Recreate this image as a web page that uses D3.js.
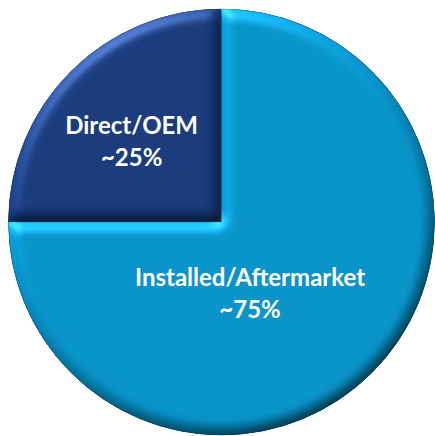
<!DOCTYPE html>
<html>
<head>
<meta charset="utf-8">
<script src="https://cdn.jsdelivr.net/npm/d3@7"></script>
<style>
  html, body { margin: 0; padding: 0; background: #ffffff; }
  svg { display: block; }
</style>
</head>
<body>
<div id="chart"></div>
<script>
// Market split by channel
const categories = ["Direct/OEM", "Installed/Aftermarket"];
const shares = [25, 75];
const shareLabels = ["~25%", "~75%"];
const sliceColors = ["#163778", "#068fc5"];

const width = 435, height = 436;
const cx = 221.5, cy = 222, radius = 213;

const svg = d3.select("#chart").append("svg")
  .attr("width", width)
  .attr("height", height);

// Beveled, softly lit surface for each slice
const defs = svg.append("defs");
const f = defs.append("filter")
  .attr("id", "bevel")
  .attr("x", "-5%").attr("y", "-5%")
  .attr("width", "110%").attr("height", "110%")
  .attr("color-interpolation-filters", "sRGB");
f.append("feGaussianBlur").attr("in", "SourceAlpha").attr("stdDeviation", 6.5).attr("result", "bump");
f.append("feDiffuseLighting")
  .attr("in", "bump").attr("surfaceScale", 6).attr("diffuseConstant", 1)
  .attr("lighting-color", "#ffffff").attr("result", "diff")
  .append("feDistantLight").attr("azimuth", 240).attr("elevation", 35);
f.append("feComposite")
  .attr("in", "SourceGraphic").attr("in2", "diff").attr("operator", "arithmetic")
  .attr("k1", 0.87).attr("k2", 0.5).attr("k3", 0).attr("k4", 0).attr("result", "shaded");
f.append("feSpecularLighting")
  .attr("in", "bump").attr("surfaceScale", 6).attr("specularConstant", 0.6)
  .attr("specularExponent", 20).attr("lighting-color", "#ffffff").attr("result", "spec")
  .append("feDistantLight").attr("azimuth", 240).attr("elevation", 35);
f.append("feComposite").attr("in", "spec").attr("in2", "SourceAlpha").attr("operator", "in").attr("result", "specIn");
f.append("feComposite")
  .attr("in", "shaded").attr("in2", "specIn").attr("operator", "arithmetic")
  .attr("k1", 0).attr("k2", 1).attr("k3", 0.35).attr("k4", 0).attr("result", "lit");
f.append("feComposite").attr("in", "lit").attr("in2", "SourceAlpha").attr("operator", "in");

const data = categories.map((c, i) => ({ category: c, value: shares[i], label: shareLabels[i], color: sliceColors[i] }));

const pie = d3.pie()
  .sort(null)
  .value(d => d.value)
  .startAngle(-Math.PI / 2)
  .endAngle(3 * Math.PI / 2);

const arc = d3.arc().innerRadius(0).outerRadius(radius);

const g = svg.append("g").attr("transform", `translate(${cx},${cy})`);

const arcs = pie(data);

g.selectAll("path.slice")
  .data(arcs)
  .join("path")
  .attr("class", "slice")
  .attr("d", arc)
  .attr("fill", d => d.data.color)
  .attr("stroke", d => d3.color(d.data.color).darker(1.2))
  .attr("stroke-width", 0.8)
  .attr("filter", "url(#bevel)");

// Label anchors, as fractions of the radius from the centre
const labelAnchor = [[-0.422, -0.415], [0.134, 0.30]];
const lineGap = 32.5;

const labels = g.selectAll("text.label")
  .data(arcs)
  .join("text")
  .attr("class", "label")
  .attr("text-anchor", "middle")
  .attr("fill", "#ffffff")
  .style("font-family", "Lato, 'Open Sans', sans-serif")
  .style("font-weight", "bold")
  .style("font-size", "24px")
  .attr("transform", (d, i) => `translate(${labelAnchor[i][0] * radius},${labelAnchor[i][1] * radius})`);

labels.append("tspan").attr("x", 0).attr("y", 0).text(d => d.data.category);
labels.append("tspan").attr("x", 0).attr("y", lineGap).text(d => d.data.label);
</script>
</body>
</html>
